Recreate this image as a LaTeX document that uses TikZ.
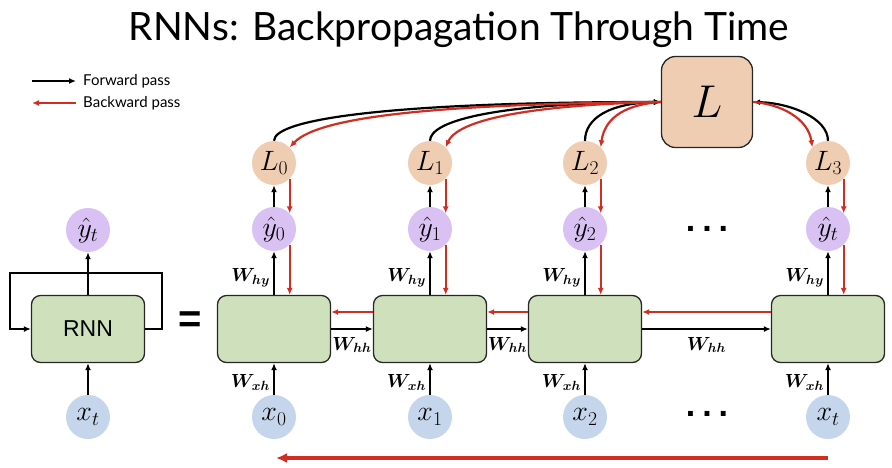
\RequirePackage{fix-cm}
\documentclass[tikz,border=0pt]{standalone}
\usepackage{amsmath}
\usepackage{fontspec}
\usepackage{tikz}
\usetikzlibrary{arrows.meta, positioning, calc}
\newfontfamily\titlefont{Lato}
\newfontfamily\boxfont{Liberation Sans}
\definecolor{cellgreen}{RGB}{207,225,188}
\definecolor{losspeach}{RGB}{238,205,178}
\definecolor{outpurple}{RGB}{217,193,244}
\definecolor{inblue}{RGB}{197,214,236}
\definecolor{bpred}{RGB}{210,45,35}

\begin{document}
\begin{tikzpicture}[
    x=1pt, y=-1pt,
    >=Latex,
    cell/.style={rectangle, draw=black!85, line width=1.3pt, fill=cellgreen, rounded corners=9pt, minimum width=113pt, minimum height=67pt},
    loss/.style={circle, fill=losspeach, minimum size=44pt, inner sep=0pt, font=\fontsize{28}{30}\selectfont},
    outp/.style={circle, fill=outpurple, minimum size=44pt, inner sep=0pt, font=\fontsize{28}{30}\selectfont},
    inp/.style={circle, fill=inblue, minimum size=44pt, inner sep=0pt, font=\fontsize{28}{30}\selectfont},
    wlab/.style={font=\fontsize{19}{19}\selectfont, inner sep=3pt},
    fwd/.style={-{Latex[length=7pt,width=6pt]}, line width=2.2pt, draw=black},
    bwd/.style={-{Latex[length=7pt,width=6pt]}, line width=2.2pt, draw=bpred},
    legtxt/.style={font=\titlefont\fontsize{15}{15}\selectfont, anchor=west, inner sep=0pt},
    dots/.style={font=\boxfont\bfseries\fontsize{34}{34}\selectfont, inner sep=0pt}
]
\useasboundingbox (0,0) rectangle (892,467);

% title and legend
\node[font=\titlefont\fontsize{39}{44}\selectfont] (title) at (459,30) {RNNs: Backpropagation Through Time};
\node[legtxt] (fwdtxt) at (83,81) {Forward pass};
\node[legtxt] (bwdtxt) at (83,103) {Backward pass};
\coordinate (fwdstart) at (32,81);
\coordinate (bwdend) at (32,103);
\draw[fwd] (fwdstart) -- ([xshift=-7pt]fwdtxt.west);
\draw[bwd] ([xshift=-7pt]bwdtxt.west) -- (bwdend);

% folded RNN
\node[cell, font=\boxfont\fontsize{23}{23}\selectfont] (rnn) at (88,329) {RNN};
\node[outp] (yt) at (88,230) {$\hat{y}_t$};
\node[inp] (xt) at (88,417) {$x_t$};
\coordinate (loopR) at (162,273);
\coordinate (loopL) at (10,273);
\draw[fwd] (rnn.north) -- (yt.south);
\draw[fwd] (xt.north) -- (rnn.south);
\draw[fwd] (rnn.east) -| (loopR) -- (loopL) |- (rnn.west);
\node[font=\boxfont\bfseries\fontsize{40}{40}\selectfont] (eq) at (190,322) {=};

% unrolled cells
\node[cell] (c0) at (274,329) {};
\node[cell] (c1) at (430,329) {};
\node[cell] (c2) at (585,329) {};
\node[cell] (c3) at (828,329) {};

\node[outp] (y0) at (274,229) {$\hat{y}_0$};
\node[outp] (y1) at (430,229) {$\hat{y}_1$};
\node[outp] (y2) at (585,229) {$\hat{y}_2$};
\node[outp] (y3) at (828,229) {$\hat{y}_t$};

\node[inp] (x0) at (274,417) {$x_0$};
\node[inp] (x1) at (430,417) {$x_1$};
\node[inp] (x2) at (585,417) {$x_2$};
\node[inp] (x3) at (828,417) {$x_t$};

\node[loss] (L0) at (274,163) {$L_0$};
\node[loss] (L1) at (430,163) {$L_1$};
\node[loss] (L2) at (585,163) {$L_2$};
\node[loss] (L3) at (828,163) {$L_3$};

\node[rectangle, draw=black!85, line width=1.3pt, fill=losspeach, rounded corners=14pt, minimum size=91pt, font=\fontsize{46}{46}\selectfont] (L) at (707,102) {$L$};

\node[dots] (dotsY) at (707,229) {.\hspace{7pt}.\hspace{7pt}.};
\node[dots] (dotsX) at (707,414) {.\hspace{7pt}.\hspace{7pt}.};

% forward pass
\foreach \i in {0,1,2,3}{
  \draw[fwd] (x\i.north) -- node[wlab, pos=0.4, left] {$\boldsymbol{W_{xh}}$} (c\i.south);
  \draw[fwd] (c\i.north) -- node[wlab, pos=0.4, left] {$\boldsymbol{W_{hy}}$} (y\i.south);
  \draw[fwd] (y\i.north) -- (L\i.south);
}
\draw[fwd] (c0.east) -- node[wlab, below=4pt] {$\boldsymbol{W_{hh}}$} (c1.west);
\draw[fwd] (c1.east) -- node[wlab, below=4pt] {$\boldsymbol{W_{hh}}$} (c2.west);
\draw[fwd] (c2.east) -- node[wlab, below=4pt] {$\boldsymbol{W_{hh}}$} (c3.west);

\draw[fwd] (L0.north) .. controls (274,118) and (400,102) .. (L.west);
\draw[fwd] (L1.north) .. controls (430,120) and (500,103) .. (L.west);
\draw[fwd] (L2.north) .. controls (585,118) and (610,103) .. (L.west);
\draw[fwd] (L3.north) .. controls (828,118) and (790,103) .. (L.east);

% backward pass
\draw[bwd] (L.west) .. controls (450,104) and (320,115) .. (L0.45);
\draw[bwd] (L.west) .. controls (560,104) and (460,115) .. (L1.45);
\draw[bwd] (L.west) .. controls (630,104) and (605,115) .. (L2.45);
\draw[bwd] (L.east) .. controls (780,104) and (808,118) .. (L3.135);
\foreach \i in {0,1,2,3}{
  \draw[bwd] (L\i.-45) -- (y\i.45);
  \draw[bwd] (y\i.-45) -- (c\i.north -| y\i.-45);
}
\draw[bwd] ([yshift=17pt]c1.west) -- ([yshift=17pt]c0.east);
\draw[bwd] ([yshift=17pt]c2.west) -- ([yshift=17pt]c1.east);
\draw[bwd] ([yshift=17pt]c3.west) -- ([yshift=17pt]c2.east);

\coordinate (bpstart) at (828,458);
\coordinate (bpend) at (276,458);
\draw[bwd, line width=4pt, -{Latex[length=11pt,width=10pt]}] (bpstart) -- (bpend);
\end{tikzpicture}
\end{document}
